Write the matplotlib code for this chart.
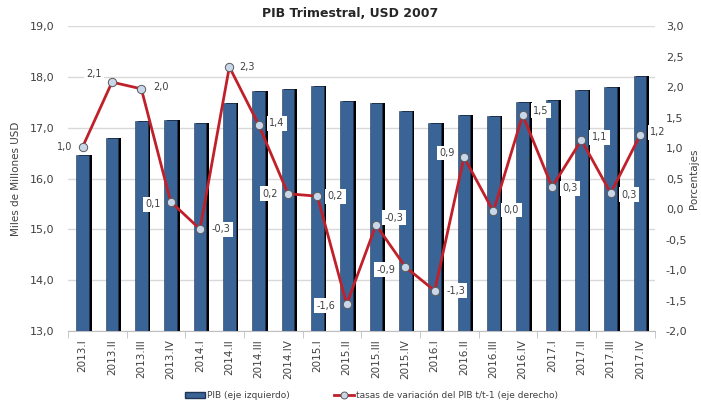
import matplotlib
matplotlib.use("Agg")
import matplotlib.pyplot as plt
from matplotlib.lines import Line2D
from matplotlib.patches import Patch
import numpy as np

categories = ["2013.I", "2013.II", "2013.III", "2013.IV",
              "2014.I", "2014.II", "2014.III", "2014.IV",
              "2015.I", "2015.II", "2015.III", "2015.IV",
              "2016.I", "2016.II", "2016.III", "2016.IV",
              "2017.I", "2017.II", "2017.III", "2017.IV"]
pib = [16.46, 16.80, 17.13, 17.15, 17.09, 17.49, 17.73, 17.77, 17.82, 17.53,
       17.49, 17.32, 17.09, 17.24, 17.22, 17.50, 17.55, 17.75, 17.80, 18.01]
tasas = [1.02, 2.08, 1.97, 0.12, -0.33, 2.33, 1.38, 0.25, 0.21, -1.56,
         -0.26, -0.95, -1.34, 0.85, -0.04, 1.54, 0.36, 1.13, 0.26, 1.21]
tasa_labels = ["1,0", "2,1", "2,0", "0,1", "-0,3", "2,3", "1,4", "0,2", "0,2", "-1,6",
               "-0,3", "-0,9", "-1,3", "0,9", "0,0", "1,5", "0,3", "1,1", "0,3", "1,2"]
# label offsets in points (style)
label_offsets = [(-13, 0), (-13, 6), (14, 1), (-13, -2), (15, 0), (13, 0), (13, 1), (-13, 0),
                 (13, 0), (-15, -1), (13, 5), (-14, -2), (15, 0), (-12, 3), (13, 1),
                 (13, 3), (13, -1), (13, 2), (13, -1), (13, 2)]

fig = plt.figure(figsize=(7.01, 4.16), dpi=100)
ax = fig.add_axes([0.097, 0.2043, 0.837, 0.7332])
x = np.arange(len(categories))

txt = "#404040"
w = 0.43
ax.bar(x + 0.09, pib, width=w, color="black", zorder=2)
ax.bar(x, pib, width=w, color="#3B6496", edgecolor="#1f3555", linewidth=0.4, zorder=3)
ax.set_ylim(13, 19)
ax.set_xlim(-0.5, len(categories) - 0.5)
ax.set_yticks(np.arange(13, 19.1, 1))
ax.set_yticklabels([f"{v:.1f}".replace(".", ",") for v in np.arange(13, 19.1, 1)],
                   fontsize=8, color=txt)
ax.yaxis.grid(True, color="#D9D9D9", linewidth=1.0, zorder=0)
ax.set_axisbelow(True)
ax.set_xticks(x)
ax.set_xticklabels(categories, rotation=90, fontsize=7.5, color=txt)
ax.tick_params(axis="x", length=0, pad=6)
ax.set_xticks(np.arange(-0.5, len(categories), 2), minor=True)
ax.tick_params(axis="x", which="minor", length=5, color="#BFBFBF")
ax.tick_params(axis="y", length=0, pad=10)
for s in ["top", "right", "left"]:
    ax.spines[s].set_visible(False)
ax.spines["bottom"].set_color("#BFBFBF")
ax.set_ylabel("Miles de Millones USD", fontsize=7.5, color=txt, labelpad=6)

ax2 = ax.twinx()
ax2.plot(x, tasas, color="#C0202A", linewidth=2, marker="o", markersize=6,
         markerfacecolor="#C9D7EA", markeredgecolor="#5A5A5A", markeredgewidth=0.7, zorder=5)
ax2.set_ylim(-2, 3)
ticks2 = np.arange(-2, 3.01, 0.5)
ax2.set_yticks(ticks2)
ax2.set_yticklabels([f"{v:.1f}".replace(".", ",") for v in ticks2], fontsize=8, color=txt)
ax2.tick_params(axis="y", length=0, pad=8)
for s in ["top", "right", "left", "bottom"]:
    ax2.spines[s].set_visible(False)
ax2.set_ylabel("Porcentajes", fontsize=7.5, color=txt, labelpad=1)

for xi, yi, lab, off in zip(x, tasas, tasa_labels, label_offsets):
    ax2.annotate(lab, (xi, yi), xytext=off, textcoords="offset points",
                 ha="center", va="center", fontsize=7, color=txt, zorder=6,
                 bbox=dict(boxstyle="square,pad=0.25", fc="white", ec="none"))

fig.text(0.5, 0.968, "PIB Trimestral, USD 2007", ha="center", va="center",
         fontsize=9, fontweight="bold", color="#262626")

handles = [Patch(facecolor="#3B6496", edgecolor="#1f3555"),
           Line2D([0], [0], color="#C0202A", linewidth=2, marker="o", markersize=5,
                  markerfacecolor="#C9D7EA", markeredgecolor="#5A5A5A", markeredgewidth=0.7)]
fig.legend(handles, ["PIB (eje izquierdo)", "tasas de variación del PIB t/t-1 (eje derecho)"],
           loc="center", bbox_to_anchor=(0.53, 0.05), ncol=2, frameon=False, fontsize=6.5,
           handlelength=2.2, handleheight=0.6, columnspacing=5, handletextpad=0.2,
           labelcolor=txt)

fig.savefig("out.png", dpi=100)
